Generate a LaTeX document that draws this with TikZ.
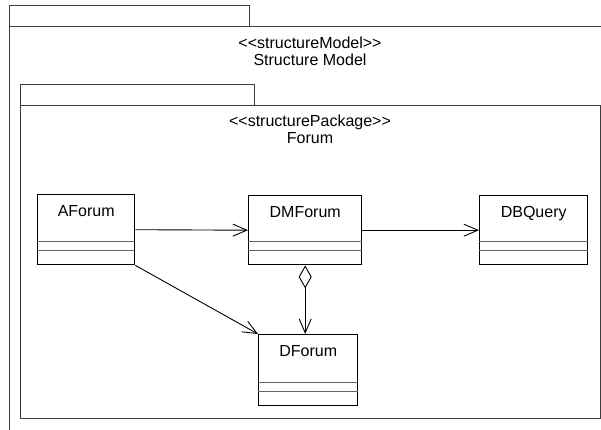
\documentclass[tikz,border=0pt]{standalone}
\usepackage{fontspec}
\setmainfont{Liberation Sans}[Ligatures=TeXOff]
\usetikzlibrary{arrows.meta,calc,positioning}
\definecolor{pkgline}{RGB}{60,60,60}
\definecolor{compline}{RGB}{100,100,100}
\tikzset{
  pkgtab/.style={
    draw=pkgline, line width=1.1pt, anchor=north west, inner sep=0pt,
  },
  pkgtitle/.style={
    align=center, font=\fontsize{16}{17}\selectfont, inner sep=0pt,
  },
  umlcls/.style={
    draw=black, line width=1.4pt, fill=white, anchor=north west, inner sep=0pt,
    label={[font=\fontsize{16}{18}\selectfont, anchor=north, yshift=-7.5pt]north:#1},
  },
  sep/.style={draw=compline, line width=1pt},
  assoc/.style={-{Straight Barb[length=14pt,width=12pt]}, line width=0.9pt},
  aggr/.style={{Diamond[open,length=23pt,width=13pt]}-{Straight Barb[length=14pt,width=12pt]}, line width=0.9pt},
}

\begin{document}
\begin{tikzpicture}[x=1pt,y=-1pt]
  \useasboundingbox (0,0) rectangle (601,430);
  \clip (0,0) rectangle (601,430);

  % outer package
  \node[pkgtab, minimum width=240pt, minimum height=21pt] (mtab) at (9,5) {};
  \node[pkgtab, minimum width=620pt, minimum height=430pt] (mbody) at (9,26) {};
  \node[pkgtitle] (mtitle) at (310,51.5) {<<structureModel>>\\Structure Model};

  % inner package
  \node[pkgtab, minimum width=234pt, minimum height=21pt] (ftab) at (20,84) {};
  \node[pkgtab, minimum width=580pt, minimum height=313pt] (fbody) at (20,105) {};
  \node[pkgtitle] (ftitle) at (310,129) {<<structurePackage>>\\Forum};

  % classes
  \node[umlcls=AForum, minimum width=97pt, minimum height=70pt] (af) at (37,194) {};
  \node[umlcls=DMForum, minimum width=113pt, minimum height=69pt] (dm) at (248,195) {};
  \node[umlcls=DBQuery, minimum width=108pt, minimum height=69pt] (db) at (479,195) {};
  \node[umlcls=DForum, minimum width=99pt, minimum height=71pt] (df) at (258,334) {};

  % compartments
  \foreach \c in {af,dm,db,df} {
    \draw[sep] ($(\c.south west)+(0,-24)$) -- ($(\c.south east)+(0,-24)$);
    \draw[sep] ($(\c.south west)+(0,-15)$) -- ($(\c.south east)+(0,-15)$);
  }

  % relations
  \draw[assoc] (af.east) -- (dm.west);
  \draw[assoc] (dm.east) -- (db.west);
  \draw[assoc] (af.south east) -- (df.north west);
  \draw[aggr] (dm.south) -- (dm.south |- df.north);
\end{tikzpicture}
\end{document}
